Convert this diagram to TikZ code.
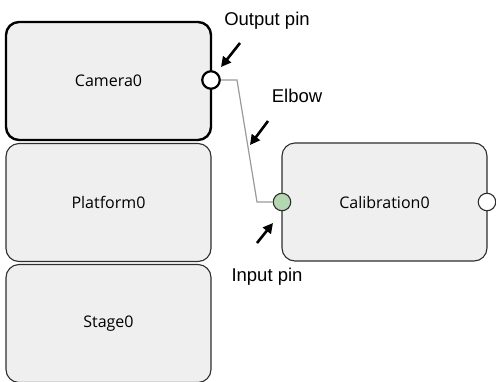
\documentclass[tikz,border=0pt]{standalone}
\usepackage{fontspec}
\setmainfont{Liberation Sans}
\newfontfamily\boxfont{Open Sans}
\usetikzlibrary{arrows.meta}
\definecolor{boxfill}{HTML}{EFEFEF}
\definecolor{boxline}{HTML}{2E2E2E}
\definecolor{pingreen}{HTML}{B4D6B0}
\definecolor{wire}{HTML}{9A9A9A}
\begin{document}
\begin{tikzpicture}[x=1pt,y=-1pt,
  blockbox/.style={draw=boxline,fill=boxfill,line width=1.1pt,rounded corners=13pt,
    minimum width=205pt,minimum height=118pt,inner sep=0pt,
    font=\boxfont\fontsize{16}{19}\selectfont},
  selbox/.style={blockbox,draw=black,line width=2.4pt},
  pin/.style={circle,draw=boxline,line width=1.1pt,fill=white,minimum size=17.5pt,inner sep=0pt},
  callout/.style={-{Triangle[length=10pt,width=10pt]},line width=2.6pt,black},
  lbl/.style={font=\fontsize{18.5}{22}\selectfont,inner sep=0pt,anchor=base}]
\useasboundingbox (0,0) rectangle (496,381);
\begin{scope}
\clip (0,0) rectangle (496,381);
\node[blockbox] (stage) at (108.5,323.5) {Stage0};
\node[blockbox] (platform) at (108.5,202.5) {Platform0};
\node[selbox] (camera) at (108.5,81) {Camera0};
\node[blockbox] (calib) at (384.5,202) {Calibration0};
\node[pin,line width=2.2pt,draw=black] (outpin) at (211,80) {};
\node[pin,fill=pingreen] (inpin) at (282,202) {};
\node[pin] (calout) at (487,202) {};
\end{scope}
\coordinate (e1) at (237,80);
\coordinate (e2) at (257,202);
\draw[wire,line width=1.2pt] (outpin.east) -- (e1) -- (e2) -- (inpin.west);
\node[lbl] (outlbl) at (267,25) {Output pin};
\node[lbl] (elbowlbl) at (297,102) {Elbow};
\node[lbl] (inlbl) at (267,281) {Input pin};
\coordinate (a1s) at (240,43);
\coordinate (a1e) at (221,67);
\coordinate (a2s) at (268,121);
\coordinate (a2e) at (250,145);
\coordinate (a3s) at (257,243);
\coordinate (a3e) at (273,223);
\draw[callout] (a1s) -- (a1e);
\draw[callout] (a2s) -- (a2e);
\draw[callout] (a3s) -- (a3e);
\end{tikzpicture}
\end{document}
